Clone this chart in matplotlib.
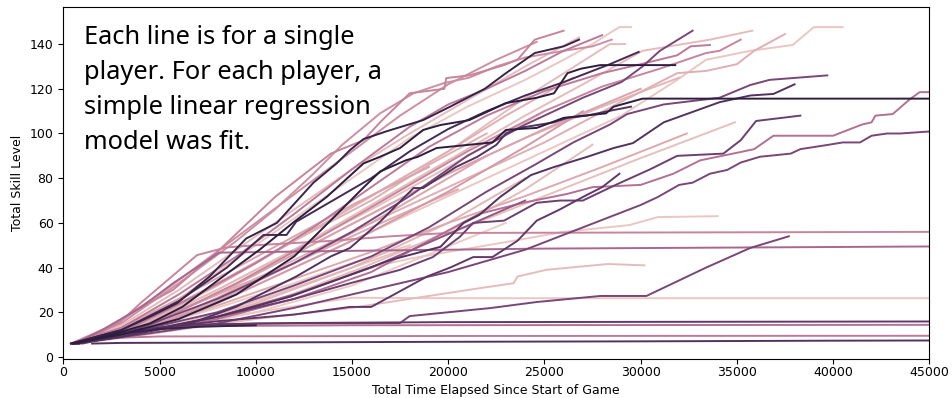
import matplotlib
matplotlib.use("Agg")
import matplotlib.pyplot as plt
import seaborn as sns
import pandas as pd

# ---- data: one entry per player (time points, skill levels, hue value) ----
times = [
    [400,3000,4500,5900,7600,9500,11100,13000,14200,14900,15600,16800,18700,20100,21900,23000,24500,26000,26800],
    [400,1500,2950,4000,5700,8000,11000,13900,15600,16460,18000,19800,19900,21100,22900,23600,24500,26000],
    [400,3000,6000,9000,11000,13000,14500,16460,18200,19800,21100,22500,24000,26000,27500,28500],
    [400,3000,6000,9000,12000,15000,18000,20000,22000,24000,26000,28000],
    [500,3000,6000,9000,12000,15000,18000,21000,24000,26000,27500,28400,28900,29500],
    [500,2500,4500,6200,8300,10200,12000,13700,15600,16460,17500,18700,19600,21100,23000,24600,25500,26200,26900,27900,31800],
    [400,3000,6000,8500,10400,11600,12100,14000,16000,18000,20000,22000,24000,26000,27500,28400,29900],
    [500,3000,6000,9000,12000,14000,15500,16460,17800,18400,19400,22300,23000,24600,26000,28200,28600,30100,46000],
    [600,3000,6600,9000,10700,12100,13900,14900,16460,18200,18700,20400,21500,22500,23000,23700,25500,26200,27200,28600,29500],
    [600,3000,5000,8000,11800,14200,17000,19600,20800,21600,22700,23700,24300,25500,27200,28600,29600,31200,34100,35700,36900,38000],
    [800,4000,8000,12000,14900,16000,18900,20100,21300,22300,23600,24600,25800,27000,28000,28900],
    [500,4000,8000,12000,15000,18000,21000,24000,27000,29000,30100,31000,32700],
    [500,4000,8000,12000,16000,19000,22000,24500,26500,28400,29300,31200,34100,35700,36700,39700],
    [500,4000,8000,12000,14900,17500,19200,20600,21300,22900,24600,25800,27000,28700,30500,31900,34300,35200,36000,38300],
    [500,4000,8000,12000,16000,19000,20300,21600,23900,26200,27500,30000,31700,33100,34800,35900,36900,40000,41500,42000,42200,43100,44000,44500,46000],
    [500,4000,8000,12000,16000,20000,24000,27000,30000,30900,32000,32700,33600,34500,35200,36200,37800,38300,39800,40500,41400,42000,42800,43500,46000],
    [500,3500,7000,10000,13000,16000,19000,22000,25000,28000,30000,31900,32600,33600],
    [500,4500,9000,13000,17000,21000,25000,28000,31000,33400,34100,35200],
    [500,4000,8000,12000,16000,20000,24000,27000,30100,33600,35800],
    [500,5000,10000,15000,20000,25000,28500,31900,33400,35000,35900,37500],
    [500,5000,10000,15000,20000,25000,29000,31900,33400,35700,37900,39000,40500],
    [600,4000,8000,12000,16000,20000,24000,28000,32000],
    [600,5000,10000,15000,20000,25000,30000,34900],
    [600,4000,8000,12000,16000,20000,24000,28000,32400],
    [800,4000,8000,12000,14900,18000,20000,23400,26000,29400,30900,34000],
    [800,5000,10000,15000,18000,21800,23400,23600,25100,28300,30200],
    [1500,3000,10000,20000,30000,40000,46000],
    [800,2500,5000,20000,46000],
    [800,2000,4000,7000,15000,46000],
    [800,2000,4000,7000,12000,20000,46000],
    [700,1500,3000,5000,7000,10000],
    [800,3000,6000,10000,13000,15000,20000,46000],
    [1000,2500,4000,6000,10000,17500,18000,22200,24600,27900,30300,33400,35700,37700],
    [600,2000,4000,5700,8100,15000,25000,46000],
    [400,1500,2950,4000,6950,8450,10000,14000,17000,20000,46000],
    [500,3000,6000,9000,12000,15000,18000,21000,24000,26800],
    [400,2500,5000,7500,10000,12500,15000,17500,20000,22500,24600],
    [600,4000,8000,12000,16000,19000,22000],
    [600,4000,8000,12000,16000,20000,25000],
    [600,4000,8000,12000,16000,20000,23000,26500],
    [700,5000,10000,15000,20000,24000],
    [600,4000,8000,12000,16000,20500],
    [700,4000,8000,12000,15000,18000],
    [500,4000,8000,12000,16000,19000,22000],
    [700,5000,10000,15000,20000,24000,27500],
    [700,4000,8000,12000,16000,20000,24000],
    [800,5000,10000,15000,19000,23000],
    [500,3000,6000,9000,12000,15000,19000],
    [600,4000,8000,12000,16000,20000,25000,30000],
    [600,4000,8000,12000,16000,20000,24000,27000],
    [500,4000,8000,12000,16000,20000,24000,28400,29200],
]

levels = [
    [6,12,18,24,36,53,60,78,86.6,92.6,97.5,101,106,112,120,127,136,139,142],
    [6,9,16,22,30,47,71.6,91,97,105,118,120,124.8,126,130.6,133,142,146],
    [6,15,33,52,66,82,95,109,118,122.6,125,130,134,137,139,142],
    [6,13,28,45,64,84,103,113,120,128,137,144],
    [6,12,26,44,62,80,98,112,124,133,140,145,147.6,147.6],
    [6,10,15,22.5,36,48,60.5,71.7,86.6,89.6,93.5,101.6,103.8,106,113.6,116,118,127,129,130.6,130.6],
    [6,12,25,40,54.6,54.6,60.5,70,80,92,102,110,117,123,128,131,136.5],
    [6,10,17,28,45,62,75,83,88,89.5,93.5,96,101.6,102.5,107,109,112,115.6,115.6],
    [6,9,15,22.5,30,36,45,48.8,60.5,75.6,75.6,85,89.5,94.9,100,102.5,105,107,108,110.5,112],
    [6,9,13,18,27,34.5,43.4,49.3,60,63.5,71.6,77.8,81.4,85,89.5,93.5,95.7,105,114,117,117.7,122],
    [6,12,16,19,22.4,22.4,36,40,44.7,44.7,52,61,66,71.6,76,82],
    [6,13,26,42,56,72,90,104,116,123,130,137,146],
    [6,12,20,32,45,58,74,86,96,104,108.7,113,116,121.7,124,126],
    [6,11,18,26,33,39,44.7,53.7,60,61,69,70,70,77,84,90,91,97,105.6,108],
    [6,11,17,26,38,52,58,64,69,73,76,77,82,88,91,93,99,99,104,105,108,108.7,115.4,118.5,118.5],
    [6,10,15,22,30,38,48,58,68,71.6,77,78,82,83.7,87,89.6,91,93,95,96,96,99,100,100,101.5],
    [6,13,28,42,58,76,94,108,119,127,131,135,139,139.6],
    [6,14,33,52,72,92,110,121,129,136,137,142],
    [6,13,30,48,68,88,108,122,137,142,146],
    [6,14,35,56,76,96,112,127,128,131,137,144.5],
    [6,13,32,52,72,92,108,124,133,137,139.6,147.6,147.6],
    [6,13,28,46,64,82,98,112,125],
    [6,12,25,40,55,72,89,105],
    [6,12,23,35,47,60,72,85,100],
    [6,11,19,28,38,44,47,52,56,59,62.6,63],
    [6,11,17,22,26,31,33,36,39,41.6,41],
    [6,6.3,6.5,6.8,7,7.3,7.4],
    [6,8.5,9.2,9.4,9.5],
    [6,9,12,13.8,14.2,14.4],
    [6,9,12.5,14.5,15.2,15.6,15.9],
    [6,8,10.5,12.5,13.5,14.2],
    [6,10,15,20,24,26.5,26.3,26.3],
    [6,9,12,14,15,15.2,18.3,21.9,24.6,27.3,27.3,40,48.8,54],
    [6,12,22,33,46.7,47.5,48.5,49.5],
    [6,9,15.6,24,45.6,49,50,52,54,55.5,56],
    [6,14,30,48,66,84,100,115,130,143],
    [6,14,28,44,60,76,92,108,122,133,141],
    [6,12,25,42,60,75,90],
    [6,14,30,48,66,85,110],
    [6,14,32,52,72,92,108,125],
    [6,12,24,40,60,80],
    [6,14,28,42,58,75],
    [6,12,22,33,42,50],
    [6,15,33,52,70,86,100],
    [6,11,22,38,56,75,95],
    [6,11,18,28,40,55,70],
    [6,11,20,32,46,60],
    [6,13,26,40,54,68,85],
    [6,13,28,46,64,82,102,120],
    [6,12,24,40,56,74,94,110],
    [6,14,32,52,72,92,116,140,140],
]

player_hue = [0.95, 0.35, 0.30, 0.40, 0.05, 1.00, 0.90, 1.00, 0.85, 0.85,
              0.80, 0.70, 0.70, 0.75, 0.45, 0.70, 0.40, 0.35, 0.10, 0.15,
              0.05, 0.12, 0.08, 0.18, 0.05, 0.10, 0.85, 0.40, 0.45, 0.80,
              0.95, 0.05, 0.70, 0.50, 0.35, 0.10, 0.30, 0.20, 0.08, 0.15,
              0.12, 0.18, 0.05, 0.15, 0.10, 0.60, 0.03, 0.20, 0.20, 0.25,
              0.10]

note = "Each line is for a single\nplayer. For each player, a\nsimple linear regression\nmodel was fit."

# ---- build long-form table ----
rows = []
for pid, (tx, ly, hv) in enumerate(zip(times, levels, player_hue)):
    for t, l in zip(tx, ly):
        rows.append({"player": pid, "time": t, "level": l, "hue": hv})
df = pd.DataFrame(rows)

W, H = 952, 398
fig = plt.figure(figsize=(W / 100, H / 100), dpi=100)
ax = fig.add_axes([63.3 / W, (H - 359) / H, 866 / W, 352 / H])

sns.lineplot(data=df, x="time", y="level", hue="hue", units="player",
             estimator=None, palette=sns.cubehelix_palette(as_cmap=True),
             hue_norm=(0, 1), legend=False, linewidth=1.4, ax=ax, sort=False)

ax.set_xlim(0, 45000)
ax.set_ylim(-0.9, 156.6)
ax.set_xticks([0, 5000, 10000, 15000, 20000, 25000, 30000, 35000, 40000, 45000])
ax.set_yticks([0, 20, 40, 60, 80, 100, 120, 140])
ax.tick_params(labelsize=9)
ax.tick_params(axis="x", pad=1.5)
ax.set_xlabel("Total Time Elapsed Since Start of Game", fontsize=9, labelpad=3.5)
ax.set_ylabel("Total Skill Level", fontsize=9)

fig.text(84 / W, 1 - 25 / H, note, ha="left", va="top", fontsize=18.3,
         family=["Noto Sans", "DejaVu Sans"], linespacing=1.52, color="black")

fig.savefig("out.png", dpi=100)
